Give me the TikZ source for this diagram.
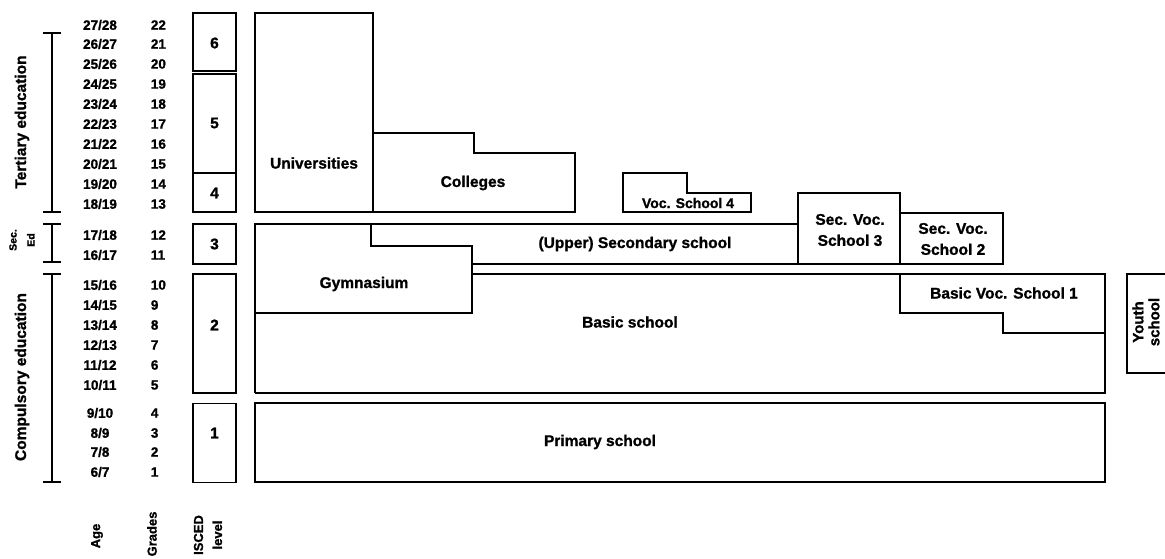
\documentclass[tikz,border=0pt]{standalone}
\usepackage{fontspec}
\setmainfont{Liberation Sans}[BoldFeatures = {FakeBold = 1.2}]

\begin{document}
\begin{tikzpicture}[
					x = 1pt,
					y = -1pt,
					line width = 1.8pt,
					every node/.style = {
						font = \bfseries\fontsize{15.5}{21}\selectfont,
						align = center,
						inner sep = 0pt,
					},
					agelabel/.style = {
						font = \bfseries\fontsize{13.5}{16}\selectfont,
					},
					gradelabel/.style = {
						font = \bfseries\fontsize{13.5}{16}\selectfont,
						anchor = west,
					},
					levelbox/.style = {
						draw,
						minimum width = 43pt,
					},
					sidelabel/.style = {
						rotate = 90,
						font = \bfseries\fontsize{15.5}{17}\selectfont,
					},
					headlabel/.style = {
						rotate = 90,
						font = \bfseries\fontsize{13}{19}\selectfont,
					},
			]
				\useasboundingbox (0, 0) rectangle (1165, 559);

				% brackets
				\draw (52, 33) -- (52, 212);
				\draw (43, 33) -- (61, 33);
				\draw (43, 212) -- (61, 212);
				\draw (52, 224) -- (52, 262);
				\draw (43, 224) -- (61, 224);
				\draw (43, 262) -- (61, 262);
				\draw (52, 274) -- (52, 482);
				\draw (43, 274) -- (61, 274);
				\draw (43, 482) -- (61, 482);

				\draw (22, 122) node (tert) [sidelabel] {Tertiary education};
				\draw (22, 240) node (seced) [sidelabel, font = \bfseries\fontsize{10.5}{18}\selectfont] {Sec.\\Ed};
				\draw (22, 377) node (comp) [sidelabel] {Compulsory education};

				% ages
				\draw (100, 25) node (a22) [agelabel] {27/28};
				\draw (100, 44) node (a21) [agelabel] {26/27};
				\draw (100, 64) node (a20) [agelabel] {25/26};
				\draw (100, 84) node (a19) [agelabel] {24/25};
				\draw (100, 104) node (a18) [agelabel] {23/24};
				\draw (100, 124) node (a17) [agelabel] {22/23};
				\draw (100, 144) node (a16) [agelabel] {21/22};
				\draw (100, 164) node (a15) [agelabel] {20/21};
				\draw (100, 184) node (a14) [agelabel] {19/20};
				\draw (100, 204) node (a13) [agelabel] {18/19};
				\draw (100, 235) node (a12) [agelabel] {17/18};
				\draw (100, 255) node (a11) [agelabel] {16/17};
				\draw (100, 285) node (a10) [agelabel] {15/16};
				\draw (100, 305) node (a9) [agelabel] {14/15};
				\draw (100, 325) node (a8) [agelabel] {13/14};
				\draw (100, 345) node (a7) [agelabel] {12/13};
				\draw (100, 365) node (a6) [agelabel] {11/12};
				\draw (100, 385) node (a5) [agelabel] {10/11};
				\draw (100, 413) node (a4) [agelabel] {9/10};
				\draw (100, 433) node (a3) [agelabel] {8/9};
				\draw (100, 452) node (a2) [agelabel] {7/8};
				\draw (100, 472) node (a1) [agelabel] {6/7};

				% grades
				\draw (150, 25) node (g22) [gradelabel] {22};
				\draw (150, 44) node (g21) [gradelabel] {21};
				\draw (150, 64) node (g20) [gradelabel] {20};
				\draw (150, 84) node (g19) [gradelabel] {19};
				\draw (150, 104) node (g18) [gradelabel] {18};
				\draw (150, 124) node (g17) [gradelabel] {17};
				\draw (150, 144) node (g16) [gradelabel] {16};
				\draw (150, 164) node (g15) [gradelabel] {15};
				\draw (150, 184) node (g14) [gradelabel] {14};
				\draw (150, 204) node (g13) [gradelabel] {13};
				\draw (150, 235) node (g12) [gradelabel] {12};
				\draw (150, 255) node (g11) [gradelabel] {11};
				\draw (150, 285) node (g10) [gradelabel] {10};
				\draw (150, 305) node (g9) [gradelabel] {9};
				\draw (150, 325) node (g8) [gradelabel] {8};
				\draw (150, 345) node (g7) [gradelabel] {7};
				\draw (150, 365) node (g6) [gradelabel] {6};
				\draw (150, 385) node (g5) [gradelabel] {5};
				\draw (150, 413) node (g4) [gradelabel] {4};
				\draw (150, 433) node (g3) [gradelabel] {3};
				\draw (150, 452) node (g2) [gradelabel] {2};
				\draw (150, 472) node (g1) [gradelabel] {1};

				% isced levels
				\draw (214.5, 42) node (l6) [levelbox, minimum height = 58pt] {};
				\draw (214.5, 123.5) node (l5) [levelbox, minimum height = 99pt] {};
				\draw (214.5, 192.5) node (l4) [levelbox, minimum height = 39pt] {};
				\draw (214.5, 244) node (l3) [levelbox, minimum height = 40pt] {};
				\draw (214.5, 333.5) node (l2) [levelbox, minimum height = 119pt] {};
				\draw (214.5, 443) node (l1) [levelbox, minimum height = 79pt] {};
				\draw (214.5, 43) node (n6) {6};
				\draw (214.5, 123) node (n5) {5};
				\draw (214.5, 193) node (n4) {4};
				\draw (214.5, 244) node (n3) {3};
				\draw (214.5, 325) node (n2) {2};
				\draw (214.5, 433) node (n1) {1};

				\draw (97, 536) node (agehead) [headlabel] {Age};
				\draw (152, 534) node (gradehead) [headlabel] {Grades};
				\draw (208, 535) node (iscedhead) [headlabel] {ISCED\\level};

				% schools
				\draw (255, 13) rectangle (373, 212);
				\draw (373, 133) -- (474, 133) -- (474, 153) -- (575, 153) -- (575, 212) -- (373, 212);
				\draw (623, 173) -- (687, 173) -- (687, 193) -- (751, 193) -- (751, 212) -- (623, 212) -- cycle;
				\draw (798, 264) -- (798, 193) -- (900, 193) -- (900, 264) -- cycle;
				\draw (900, 213) -- (1003, 213) -- (1003, 264) -- (900, 264);
				\draw (798, 224) -- (255, 224) -- (255, 393);
				\draw (371, 224) -- (371, 246) -- (472, 246) -- (472, 313) -- (255, 313);
				\draw (472, 264) -- (798, 264);
				\draw (472, 274) -- (1105, 274) -- (1105, 393) -- (255, 393);
				\draw (900, 274) -- (900, 313) -- (1003, 313) -- (1003, 333) -- (1105, 333);
				\draw (255, 403) rectangle (1105, 482);
				\draw (1180, 274) -- (1127, 274) -- (1127, 373) -- (1180, 373);

				\draw (314, 163) node (uni) {Universities};
				\draw (473, 183) node (coll) {Colleges};
				\draw (688, 203) node (voc4) [font = \bfseries\fontsize{14}{16}\selectfont] {Voc. School 4};
				\draw (635, 244) node (upsec) {(Upper) Secondary school};
				\draw (850, 230) node (secvoc3) {Sec. Voc.\\School 3};
				\draw (953, 239) node (secvoc2) {Sec. Voc.\\School 2};
				\draw (364, 284) node (gym) {Gymnasium};
				\draw (630, 322) node (basic) {Basic school};
				\draw (1004, 293) node (bvoc1) {Basic Voc. School 1};
				\draw (600, 442) node (prim) {Primary school};
				\draw (1146, 322) node (youth) [sidelabel, font = \bfseries\fontsize{15}{16}\selectfont] {Youth\\school};
			\end{tikzpicture}
\end{document}
